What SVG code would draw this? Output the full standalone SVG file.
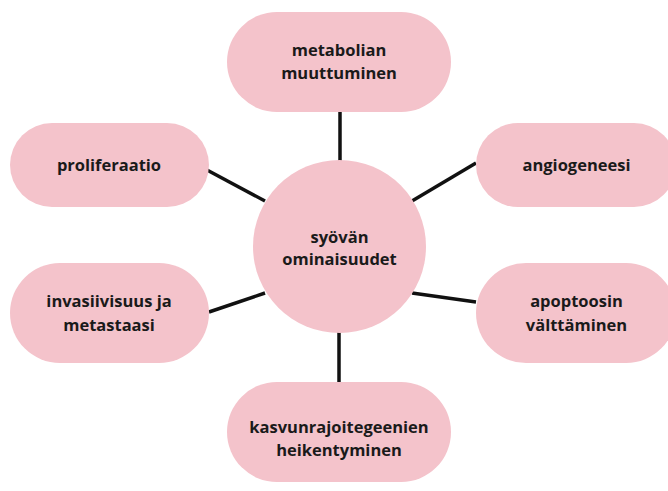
<svg xmlns="http://www.w3.org/2000/svg" width="668" height="491" viewBox="0 0 668 491">
<style>
.n{fill:#f4c3cb}
.t{font-family:"Open Sans","Noto Sans","Liberation Sans",sans-serif;font-weight:700;font-size:16.5px;fill:#1a1a1a;text-anchor:middle}
.c{stroke:#111;stroke-width:3.5;fill:none;stroke-linecap:butt}
</style>
<rect width="668" height="491" fill="#ffffff"/>
<g id="connectors">
<line class="c" x1="340" y1="112" x2="340" y2="162"/>
<line class="c" x1="207" y1="170" x2="265" y2="201"/>
<line class="c" x1="476" y1="163" x2="412" y2="201"/>
<line class="c" x1="209" y1="312" x2="265" y2="293"/>
<line class="c" x1="476" y1="302" x2="412" y2="293"/>
<line class="c" x1="339" y1="331" x2="339" y2="383"/>
</g>
<g id="center">
<circle class="n" cx="339.5" cy="246.5" r="86.5"/>
<text class="t" x="339.5" y="243">syövän</text>
<text class="t" x="339.5" y="265">ominaisuudet</text>
</g>
<g id="metabolian">
<rect class="n" x="227" y="12" width="224" height="100" rx="50"/>
<text class="t" x="339" y="56">metabolian</text>
<text class="t" x="339" y="79">muuttuminen</text>
</g>
<g id="proliferaatio">
<rect class="n" x="10" y="123" width="199" height="84" rx="42"/>
<text class="t" x="109" y="171">proliferaatio</text>
</g>
<g id="angiogeneesi">
<rect class="n" x="476" y="123" width="200" height="84" rx="42"/>
<text class="t" x="576.5" y="171">angiogeneesi</text>
</g>
<g id="invasiivisuus">
<rect class="n" x="10" y="263" width="199" height="100" rx="50"/>
<text class="t" x="109" y="307">invasiivisuus ja</text>
<text class="t" x="109" y="331">metastaasi</text>
</g>
<g id="apoptoosin">
<rect class="n" x="476" y="263" width="200" height="100" rx="50"/>
<text class="t" x="576.5" y="307">apoptoosin</text>
<text class="t" x="576.5" y="331">välttäminen</text>
</g>
<g id="kasvunrajoite">
<rect class="n" x="227" y="382" width="224" height="100" rx="50"/>
<text class="t" x="339" y="433">kasvunrajoitegeenien</text>
<text class="t" x="339" y="456">heikentyminen</text>
</g>
</svg>
